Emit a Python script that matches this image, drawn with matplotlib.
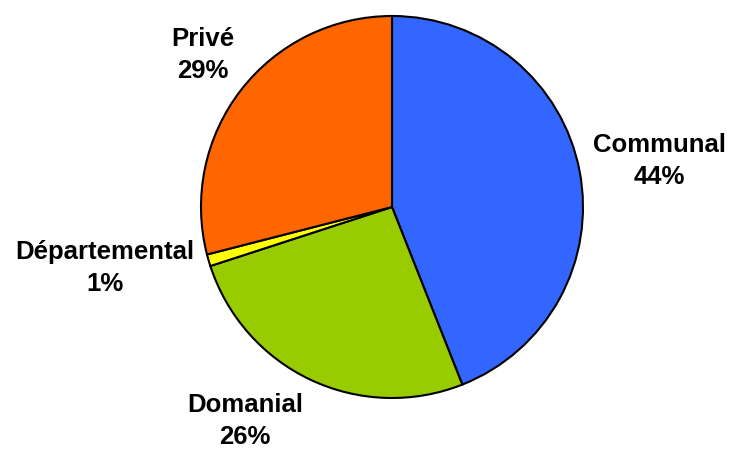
import matplotlib
matplotlib.use('Agg')
import matplotlib.pyplot as plt

labels = ['Communal', 'Domanial', 'Départemental', 'Privé']
values = [44, 26, 1, 29]
colors = ['#3366FF', '#99CC00', '#FFFF00', '#FF6600']
# label centres in pixel coords (x, y from top)
label_pos = [(659, 161), (245, 421), (105, 268), (203, 55)]

fig = plt.figure(figsize=(7.3, 4.5), dpi=100)
ax = fig.add_axes([0, 0, 1, 1])

ax.pie(values, colors=colors, startangle=90, counterclock=False,
       center=(392, 243), radius=191,
       wedgeprops=dict(edgecolor='black', linewidth=1.5))

ax.set_xlim(0, 730)
ax.set_ylim(0, 450)
ax.set_aspect('auto')
ax.axis('off')

for lab, v, (x, y) in zip(labels, values, label_pos):
    ax.text(x, 450 - y, '%s\n%d%%' % (lab, v), ha='center', va='center',
            fontsize=18.5, fontweight='bold', family='Liberation Sans',
            linespacing=1.4)

fig.savefig('out.png', dpi=100)
